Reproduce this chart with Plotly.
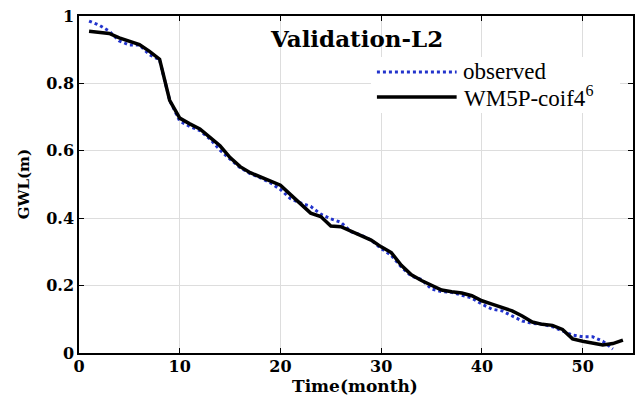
import plotly.graph_objects as go

months_model = list(range(1, 55))
model = [0.955, 0.952, 0.948, 0.935, 0.925, 0.915, 0.895, 0.872, 0.750, 0.697,
         0.680, 0.665, 0.640, 0.615, 0.580, 0.553, 0.535, 0.523, 0.510, 0.498,
         0.470, 0.443, 0.415, 0.405, 0.377, 0.375, 0.362, 0.348, 0.335, 0.315,
         0.298, 0.260, 0.232, 0.215, 0.200, 0.187, 0.182, 0.178, 0.170, 0.155,
         0.145, 0.135, 0.125, 0.110, 0.092, 0.085, 0.082, 0.070, 0.042, 0.035,
         0.030, 0.024, 0.028, 0.038]

months_obs = list(range(1, 54))
observed = [0.985, 0.973, 0.955, 0.926, 0.914, 0.914, 0.885, 0.870, 0.750, 0.688,
            0.672, 0.660, 0.635, 0.602, 0.575, 0.550, 0.532, 0.520, 0.505, 0.485,
            0.458, 0.445, 0.435, 0.412, 0.398, 0.388, 0.360, 0.350, 0.335, 0.310,
            0.290, 0.255, 0.228, 0.218, 0.190, 0.182, 0.180, 0.172, 0.163, 0.145,
            0.130, 0.125, 0.110, 0.095, 0.088, 0.085, 0.078, 0.065, 0.053, 0.048,
            0.048, 0.035, 0.012]

x_ticks = [0, 10, 20, 30, 40, 50]
y_ticks = [0, 0.2, 0.4, 0.6, 0.8, 1]

BOLD_SERIF = "DejaVu Serif"
SERIF = "Liberation Serif"
BLUE = "#2233cc"

L, R, T, B = 79, 3, 16, 42
PW, PH = 638 - L - R, 395 - T - B


def px(xp):
    return (xp - L) / PW


def py(yp):
    return (395 - B - yp) / PH


fig = go.Figure()
fig.add_trace(go.Scatter(x=months_obs, y=observed, mode="lines", name="observed",
                         line=dict(color=BLUE, width=3, dash="dot"), showlegend=False))
fig.add_trace(go.Scatter(x=months_model, y=model, mode="lines", name="WM5P-coif4<sup>6</sup>",
                         line=dict(color="black", width=3.5), showlegend=False))

# legend drawn manually (white box, long line samples)
fig.add_shape(type="rect", xref="paper", yref="paper", x0=px(372), x1=px(622),
              y0=py(113), y1=py(57), fillcolor="white", line=dict(width=0), layer="above")
fig.add_shape(type="line", xref="paper", yref="paper", x0=px(378), x1=px(458),
              y0=py(72), y1=py(72), line=dict(color=BLUE, width=3, dash="dot"), layer="above")
fig.add_shape(type="line", xref="paper", yref="paper", x0=px(378), x1=px(458),
              y0=py(97), y1=py(97), line=dict(color="black", width=3.5), layer="above")
fig.add_annotation(xref="paper", yref="paper", x=px(462), y=py(71), text="observed",
                   showarrow=False, xanchor="left", yanchor="middle",
                   font=dict(family=SERIF, size=23, color="black"))
fig.add_annotation(xref="paper", yref="paper", x=px(463), y=py(97), text="WM5P-coif4<sup>6</sup>",
                   showarrow=False, xanchor="left", yanchor="middle",
                   font=dict(family=SERIF, size=23, color="black"))
fig.add_annotation(xref="paper", yref="paper", x=px(358), y=py(38), text="<b>Validation-L2</b>",
                   showarrow=False, xanchor="center", yanchor="middle",
                   font=dict(family=BOLD_SERIF, size=23, color="black"))

# axis titles
fig.add_annotation(xref="paper", yref="paper", x=px(356), y=py(386), text="<b>Time(month)</b>",
                   showarrow=False, xanchor="center", yanchor="middle",
                   font=dict(family=BOLD_SERIF, size=17, color="black"))
fig.add_annotation(xref="paper", yref="paper", x=px(24), y=py(184), text="<b>GWL(m)</b>",
                   showarrow=False, xanchor="center", yanchor="middle", textangle=-90,
                   font=dict(family=BOLD_SERIF, size=15, color="black"))

axis_common = dict(showline=True, linecolor="black", linewidth=1.5, mirror="ticks",
                   ticks="inside", ticklen=5, tickcolor="black",
                   showgrid=True, gridcolor="#dddddd", gridwidth=1, zeroline=False,
                   tickfont=dict(family=BOLD_SERIF, size=16, color="black"))

fig.update_layout(
    width=638, height=395,
    margin=dict(l=L, r=R, t=T, b=B),
    paper_bgcolor="white", plot_bgcolor="white",
    xaxis=dict(range=[0, 55], tickvals=x_ticks, ticktext=[f"<b>{v}</b>" for v in x_ticks],
               ticklabelstandoff=-2, **axis_common),
    yaxis=dict(range=[0, 1], tickvals=y_ticks, ticktext=[f"<b>{v:g}</b>" for v in y_ticks],
               **axis_common),
)

fig.write_html("out.html")
